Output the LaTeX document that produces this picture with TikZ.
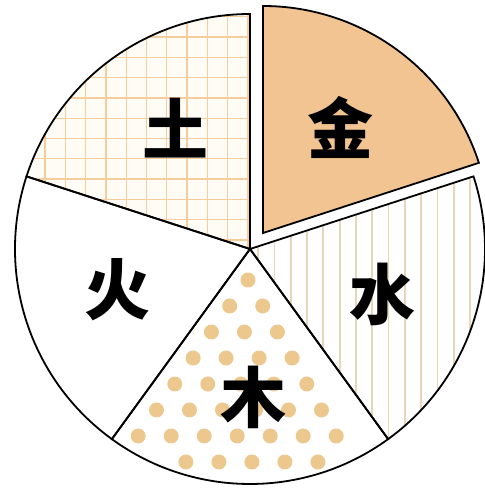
\documentclass[tikz,border=0pt]{standalone}
\usepackage{fontspec}
\newfontfamily\cjk{Noto Sans CJK SC}
\definecolor{jinc}{RGB}{242,196,146}
\definecolor{gridc}{RGB}{245,204,156}
\definecolor{stripec}{RGB}{230,215,184}
\definecolor{dotc}{RGB}{236,200,142}
\definecolor{creamc}{RGB}{255,252,245}
\begin{document}
\begin{tikzpicture}[x=1pt,y=1pt,
  outline/.style={draw=black, line width=1.8pt, line join=miter},
  gridline/.style={draw=gridc, line width=1.3pt},
  stripe/.style={draw=stripec, line width=1.8pt},
  dotmark/.style={fill=dotc},
  wxlabel/.style={font=\cjk\bfseries\fontsize{66}{66}\selectfont, inner sep=0pt, text=black}]
\useasboundingbox (0,0) rectangle (485,488);
\fill[white] (0,0) rectangle (485,488);
\coordinate (C) at (250,239);
\coordinate (G) at (263,255);
\def\R{235}
\def\Rg{227}
% earth: grid
\fill[creamc] (C) -- +(90:\R) arc[start angle=90, end angle=162, radius=\R] -- cycle;
\begin{scope}
  \clip (C) -- +(90:\R) arc[start angle=90, end angle=162, radius=\R] -- cycle;
  \foreach \i in {0,...,11} \draw[gridline] ({248-20.3*\i},0) -- ++(0,488);
  \foreach \i in {-1,...,11} \draw[gridline] (0,{451-20.3*\i}) -- ++(485,0);
\end{scope}
% water: stripes
\begin{scope}
  \clip (C) -- +(-54:\R) arc[start angle=-54, end angle=18, radius=\R] -- cycle;
  \foreach \i in {-4,...,11} \draw[stripe] ({307+16.3*\i},0) -- ++(0,488);
\end{scope}
% wood: dots
\begin{scope}
  \clip (C) -- +(234:\R) arc[start angle=234, end angle=306, radius=\R] -- cycle;
  \foreach \j in {0,...,6} {
    \foreach \k in {0,...,\j} {
      \fill[dotmark] ({248-18.3*\j+33*\k},{208-26*\j}) circle[radius=7.5];
    }
  }
  \foreach \k in {2,...,6} {
    \fill[dotmark] ({248-18.3*7+33*\k},{208-26*7}) circle[radius=7.5];
  }
\end{scope}
% metal: exploded
\fill[jinc] (G) -- +(18:\Rg) arc[start angle=18, end angle=90, radius=\Rg] -- cycle;
% outlines
\draw[outline] (C) -- +(90:\R) arc[start angle=90, end angle=162, radius=\R] -- cycle;
\draw[outline] (C) -- +(162:\R) arc[start angle=162, end angle=234, radius=\R] -- cycle;
\draw[outline] (C) -- +(234:\R) arc[start angle=234, end angle=306, radius=\R] -- cycle;
\draw[outline] (C) -- +(-54:\R) arc[start angle=-54, end angle=18, radius=\R] -- cycle;
\draw[outline] (G) -- +(18:\Rg) arc[start angle=18, end angle=90, radius=\Rg] -- cycle;
% labels
\node[wxlabel] (jin) at (340,361) {金};
\node[wxlabel] (tu) at (175,360) {土};
\node[wxlabel] (huo) at (117,198) {火};
\node[wxlabel] (shui) at (382,194) {水};
\node[wxlabel] (mu) at (253,91) {木};
\end{tikzpicture}
\end{document}
